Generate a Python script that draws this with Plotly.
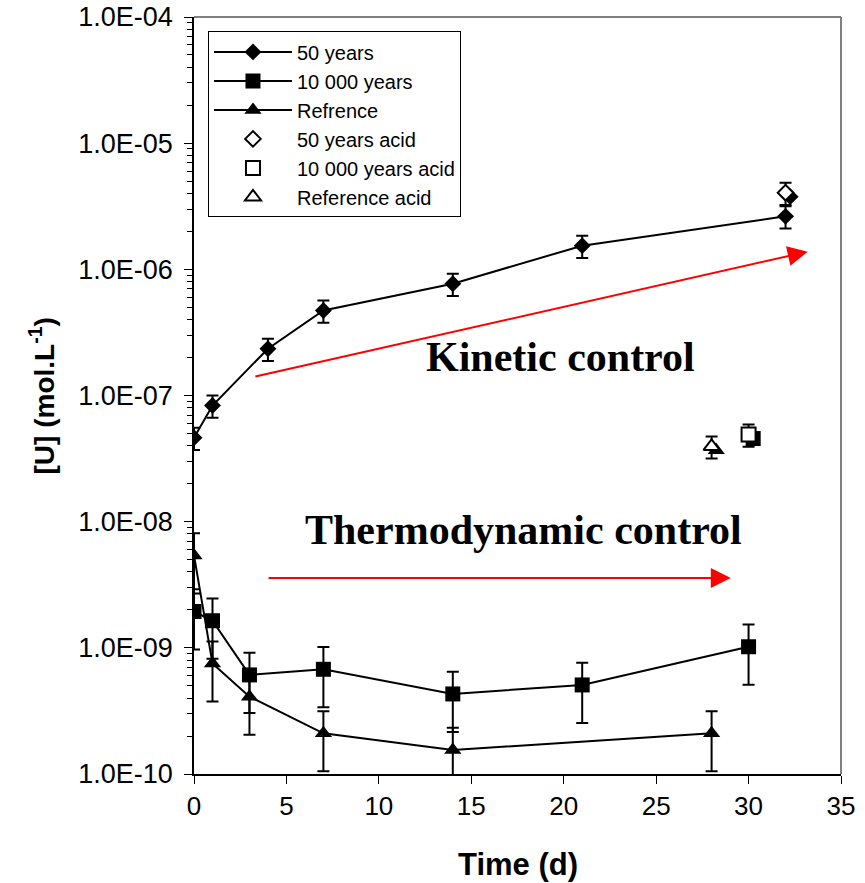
import plotly.graph_objects as go

# ---- data ----
t_50 = [0, 1, 4, 7, 14, 21, 32]
u_50 = [4.62e-8, 8.33e-8, 2.35e-7, 4.72e-7, 7.69e-7, 1.54e-6, 2.63e-6]
err_50 = [0.2, 0.2, 0.2, 0.2, 0.2, 0.2, 0.2]   # relative

t_10k = [0, 1, 3, 7, 14, 21, 30]
u_10k = [1.94e-9, 1.64e-9, 6.1e-10, 6.76e-10, 4.31e-10, 5.08e-10, 1.02e-9]
err_10k = [0.5, 0.5, 0.5, 0.5, 0.5, 0.5, 0.5]

t_ref = [0, 1, 3, 7, 14, 28]
u_ref = [5.4e-9, 7.5e-10, 4.1e-10, 2.1e-10, 1.55e-10, 2.1e-10]
err_ref = [0.5, 0.5, 0.5, 0.5, 0.5, 0.5]

t_50_acid = [32]
u_50_acid = [4.05e-6]
t_10k_acid = [30]
u_10k_acid = [4.9e-8]
t_ref_acid = [28]
u_ref_acid = [3.95e-8]
err_acid = 0.2

y_tickvals = [1e-10, 1e-9, 1e-8, 1e-7, 1e-6, 1e-5, 1e-4]
y_ticktext = ["1.0E-10", "1.0E-09", "1.0E-08", "1.0E-07", "1.0E-06", "1.0E-05", "1.0E-04"]
x_tickvals = [0, 5, 10, 15, 20, 25, 30, 35]

FONT = "Arial, Liberation Sans, sans-serif"
SERIF = "Times New Roman, Liberation Serif, serif"


def errs(vals, rel):
    if not isinstance(rel, list):
        rel = [rel] * len(vals)
    return [v * r for v, r in zip(vals, rel)]


fig = go.Figure()

# shadows of acid markers (drawn behind)
SH_DX = 0.25
SH_F = 0.93
for tx, uy, sym in [(t_50_acid, u_50_acid, "diamond"),
                    (t_10k_acid, u_10k_acid, "square"),
                    (t_ref_acid, u_ref_acid, "triangle-up")]:
    fig.add_trace(go.Scatter(
        x=[v + SH_DX for v in tx], y=[v * SH_F for v in uy], mode="markers",
        marker=dict(symbol=sym, color="black",
                    size={"diamond": 13, "square": 15, "triangle-up": 15}[sym],
                    line=dict(width=0)),
        showlegend=False, hoverinfo="skip"))

ebar = dict(type="data", symmetric=False, color="black", thickness=2, width=6)

fig.add_trace(go.Scatter(
    x=t_50, y=u_50, name="50 years", mode="lines+markers",
    line=dict(color="black", width=2),
    marker=dict(symbol="diamond", size=13, color="black"),
    error_y=dict(ebar, array=errs(u_50, err_50), arrayminus=errs(u_50, err_50))))

fig.add_trace(go.Scatter(
    x=t_10k, y=u_10k, name="10 000 years", mode="lines+markers",
    line=dict(color="black", width=2),
    marker=dict(symbol="square", size=15, color="black"),
    error_y=dict(ebar, array=errs(u_10k, err_10k), arrayminus=errs(u_10k, err_10k))))

fig.add_trace(go.Scatter(
    x=t_ref, y=u_ref, name="Refrence", mode="lines+markers",
    line=dict(color="black", width=2),
    marker=dict(symbol="triangle-up", size=15, color="black"),
    error_y=dict(ebar, array=errs(u_ref, err_ref), arrayminus=errs(u_ref, err_ref))))

for tx, uy, sym, nm, sz in [(t_50_acid, u_50_acid, "diamond", "50 years acid", 12),
                            (t_10k_acid, u_10k_acid, "square", "10 000 years acid", 14),
                            (t_ref_acid, u_ref_acid, "triangle-up", "Reference acid", 14)]:
    fig.add_trace(go.Scatter(
        x=tx, y=uy, name=nm, mode="markers",
        marker=dict(symbol=sym, size=sz, color="white",
                    line=dict(color="black", width=2)),
        error_y=dict(ebar, array=errs(uy, err_acid), arrayminus=errs(uy, err_acid))))

fig.update_layout(
    width=865, height=883,
    margin=dict(l=194, r=24, t=17, b=109, autoexpand=False),
    paper_bgcolor="white", plot_bgcolor="white",
    font=dict(family=FONT, color="black"),
    showlegend=True,
    legend=dict(x=0.0216, y=0.981, xanchor="left", yanchor="top",
                bgcolor="white", bordercolor="black", borderwidth=1,
                font=dict(family=FONT, size=20, color="black"),
                itemwidth=78, tracegroupgap=0),
    xaxis=dict(range=[0, 35], tickmode="array", tickvals=x_tickvals,
               ticks="outside", ticklen=8, tickcolor="black", tickwidth=1,
               showline=True, linecolor="black", linewidth=1.5,
               showgrid=False, zeroline=False, automargin=False,
               tickfont=dict(family=FONT, size=26, color="black")),
    yaxis=dict(type="log", range=[-10, -4], tickmode="array",
               tickvals=y_tickvals, ticktext=y_ticktext,
               ticks="outside", ticklen=8, tickcolor="black", tickwidth=1,
               showline=True, linecolor="black", linewidth=1.5,
               showgrid=False, zeroline=False, automargin=False,
               ticklabelstandoff=6,
               tickfont=dict(family=FONT, size=27, color="black"),
               minor=dict(ticks="outside", ticklen=5, tickcolor="black",
                          tickwidth=1, showgrid=False, dtick="D1")),
)

# frame top & right (gray)
fig.add_shape(type="line", xref="paper", yref="paper", x0=0, x1=1, y0=1, y1=1,
              line=dict(color="#808080", width=2))
fig.add_shape(type="line", xref="paper", yref="paper", x0=1, x1=1, y0=0, y1=1,
              line=dict(color="#808080", width=2))

# axis titles
fig.add_annotation(xref="paper", yref="paper", x=-0.235, y=0.5, textangle=-90,
                   text="<b>[U] (mol.L<sup>-1</sup>)</b>", showarrow=False,
                   font=dict(family=FONT, size=28, color="black"),
                   xanchor="center", yanchor="middle")
fig.add_annotation(xref="paper", yref="paper", x=0.5, y=-0.119,
                   text="<b>Time (d)</b>", showarrow=False,
                   font=dict(family=FONT, size=31, color="black"),
                   xanchor="center", yanchor="middle")

# red arrows
fig.add_annotation(xref="x", yref="y", axref="x", ayref="y",
                   x=33.2, y=-5.86, ax=3.24, ay=-6.852, text="",
                   showarrow=True, arrowhead=2, arrowsize=2, arrowwidth=2,
                   arrowcolor="red", standoff=0)
fig.add_annotation(xref="x", yref="y", axref="x", ayref="y",
                   x=29.04, y=-8.446, ax=3.95, ay=-8.446, text="",
                   showarrow=True, arrowhead=2, arrowsize=2, arrowwidth=2,
                   arrowcolor="red", standoff=0)

# texts
fig.add_annotation(xref="x", yref="y", x=19.8, y=-6.693,
                   text="<b>Kinetic control</b>", showarrow=False,
                   font=dict(family=SERIF, size=42, color="black"))
fig.add_annotation(xref="x", yref="y", x=17.85, y=-8.065,
                   text="<b>Thermodynamic control</b>", showarrow=False,
                   font=dict(family=SERIF, size=42, color="black"))

fig.write_html("out.html")
